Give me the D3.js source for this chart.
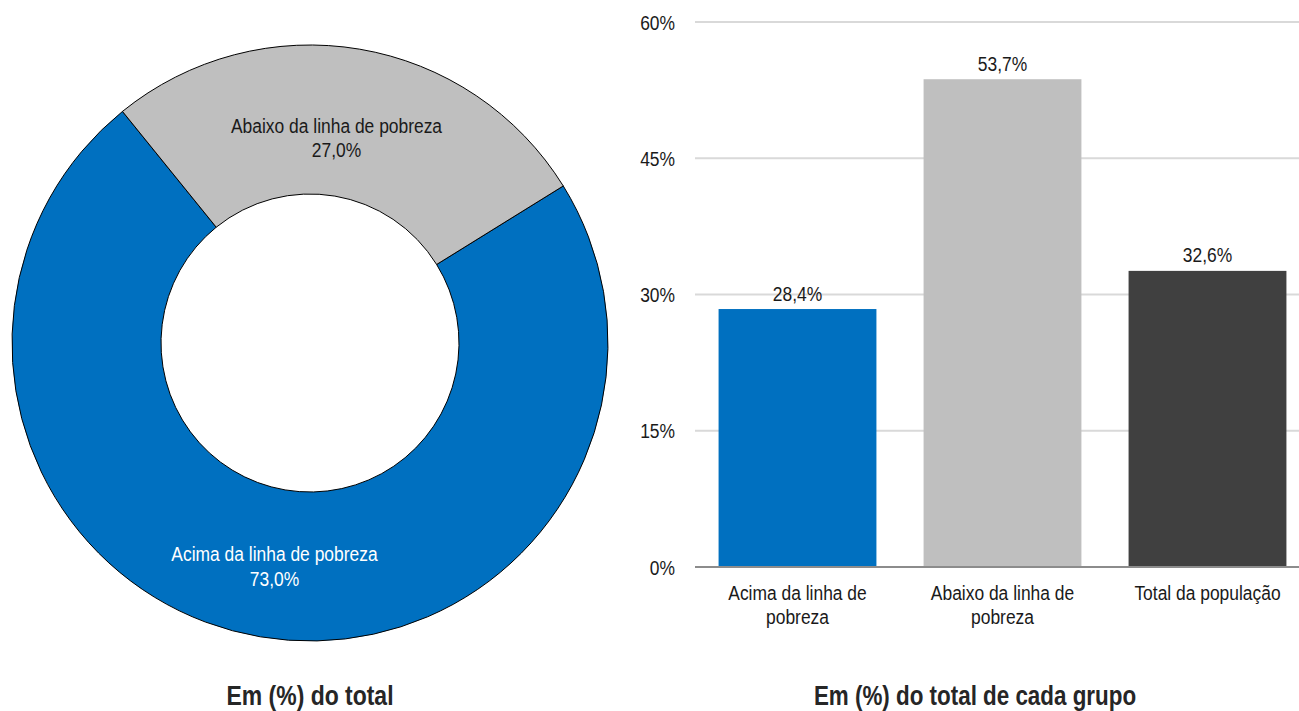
<!DOCTYPE html>
<html>
<head>
<meta charset="utf-8">
<script src="https://cdn.jsdelivr.net/npm/d3@7"></script>
<style>
  body { margin: 0; background: #fff; }
  svg text { font-family: "Liberation Sans", Arial, sans-serif; }
</style>
</head>
<body>
<div id="chart"></div>
<script>
// donut data
var pieLabels = ["Acima da linha de pobreza", "Abaixo da linha de pobreza"];
var pieValues = [73.0, 27.0];
var pieColors = ["#0070C0", "#BFBFBF"];
var pieTextColors = ["#ffffff", "#1a1a1a"];

// bar data
var barLabels = [["Acima da linha de", "pobreza"], ["Abaixo da linha de", "pobreza"], ["Total da população"]];
var barValues = [28.4, 53.7, 32.6];
var barColors = ["#0070C0", "#BFBFBF", "#404040"];
var yTicks = [0, 15, 30, 45, 60];

var fmt = function (v) { return v.toFixed(1).replace(".", ",") + "%"; };

// narrow font imitation (Arial Narrow is not installed)
var SX = 0.83;
function place(x, y, sx) {
    return "translate(" + x + "," + y + ") scale(" + (sx || SX) + ",1)";
}

var w = 1299, h = 711;
var svg = d3.select("#chart").append("svg").attr("width", w).attr("height", h);

// ---- donut ----
var cx = 310, cy = 343, outerR = 298, innerR = 149;
var pie = d3.pie().sort(null).value(function (d) { return d; })
    .startAngle(58.2 * Math.PI / 180)
    .endAngle(58.2 * Math.PI / 180 + 2 * Math.PI);
var arc = d3.arc().innerRadius(innerR).outerRadius(outerR);
var labelArc = d3.arc().innerRadius(213).outerRadius(213);

var g = svg.append("g").attr("transform", "translate(" + cx + "," + cy + ")");
var arcs = pie(pieValues);
g.selectAll("path").data(arcs).enter().append("path")
    .attr("d", arc)
    .attr("fill", function (d, i) { return pieColors[i]; })
    .attr("stroke", "#000")
    .attr("stroke-width", 1);

var lbl = g.selectAll("text.lbl").data(arcs).enter().append("text")
    .attr("class", "lbl")
    .attr("text-anchor", "middle")
    .attr("font-size", 21)
    .attr("fill", function (d, i) { return pieTextColors[i]; })
    .attr("transform", function (d, i) {
        var c = labelArc.centroid(d);
        // small nudge so labels sit where the original puts them
        var nx = i === 1 ? -9 : 0, ny = i === 1 ? 0 : 8;
        return place(c[0] + nx, c[1] + ny);
    });
lbl.append("tspan").attr("x", 0).attr("y", 0).text(function (d, i) { return pieLabels[i]; });
lbl.append("tspan").attr("x", 0).attr("y", 24.5).text(function (d) { return fmt(d.value); });

svg.append("text").attr("transform", place(310, 705, 0.82)).attr("text-anchor", "middle")
    .attr("font-size", 28).attr("font-weight", "bold").attr("fill", "#262626")
    .text("Em (%) do total");

// ---- bars ----
var x = d3.scaleBand().domain(d3.range(barValues.length)).range([695, 1310])
    .paddingInner(0.23).paddingOuter(0.115);
var y = d3.scaleLinear().domain([0, 60]).range([567, 22]);

svg.append("g").selectAll("line").data(yTicks.slice(1)).enter().append("line")
    .attr("x1", 695).attr("x2", w)
    .attr("y1", function (d) { return y(d); }).attr("y2", function (d) { return y(d); })
    .attr("stroke", "#d9d9d9").attr("stroke-width", 2);

svg.append("g").selectAll("text").data(yTicks).enter().append("text")
    .attr("transform", function (d) { return place(675, y(d) + 7.5); })
    .attr("text-anchor", "end").attr("font-size", 21).attr("fill", "#1a1a1a")
    .text(function (d) { return d + "%"; });

svg.append("g").selectAll("rect").data(barValues).enter().append("rect")
    .attr("x", function (d, i) { return x(i); })
    .attr("width", x.bandwidth())
    .attr("y", function (d) { return y(d); })
    .attr("height", function (d) { return y(0) - y(d); })
    .attr("fill", function (d, i) { return barColors[i]; });

svg.append("line").attr("x1", 695).attr("x2", w).attr("y1", y(0)).attr("y2", y(0))
    .attr("stroke", "#8c8c8c").attr("stroke-width", 2);

svg.append("g").selectAll("text").data(barValues).enter().append("text")
    .attr("transform", function (d, i) { return place(x(i) + x.bandwidth() / 2, y(d) - 8.5); })
    .attr("text-anchor", "middle").attr("font-size", 21).attr("fill", "#1a1a1a")
    .text(fmt);

var cat = svg.append("g").selectAll("text").data(barLabels).enter().append("text")
    .attr("transform", function (d, i) { return place(x(i) + x.bandwidth() / 2, 600); })
    .attr("text-anchor", "middle").attr("font-size", 21).attr("fill", "#1a1a1a");
cat.each(function (lines) {
    var t = d3.select(this);
    lines.forEach(function (s, k) {
        t.append("tspan").attr("x", 0).attr("y", k * 24).text(s);
    });
});

svg.append("text").attr("transform", place(975, 705, 0.80)).attr("text-anchor", "middle")
    .attr("font-size", 28).attr("font-weight", "bold").attr("fill", "#262626")
    .text("Em (%) do total de cada grupo");
</script>
</body>
</html>
